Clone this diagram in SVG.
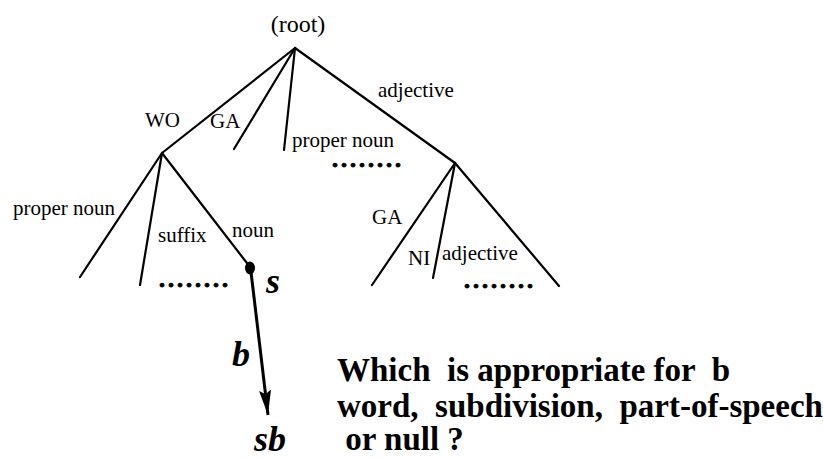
<svg xmlns="http://www.w3.org/2000/svg" width="823" height="459" viewBox="0 0 823 459">
<style>
text{font-family:"Liberation Serif","Times New Roman",serif;fill:#000}
.lbl{font-size:21px}
.root{font-size:24px}
.dots{font-size:24px;font-weight:bold;letter-spacing:3px;stroke:#000;stroke-width:1}
.var{font-size:36px;font-weight:bold;font-style:italic}
.q{font-size:33px;font-weight:bold;white-space:pre}
.edge{stroke:#000;stroke-width:2.2;fill:none;stroke-linecap:round}
.arrow{stroke:#000;stroke-width:3;fill:none}
</style>
<defs>
<marker id="ah" markerUnits="userSpaceOnUse" markerWidth="26" markerHeight="14" refX="25" refY="6" orient="auto">
<path d="M0,0 L25,6 L0,12 L4,6 z" fill="#000"/>
</marker>
</defs>
<g id="connectors">
<line class="edge" x1="295" y1="48" x2="162" y2="153"/>
<line class="edge" x1="295" y1="48" x2="234" y2="149"/>
<line class="edge" x1="295" y1="48" x2="284" y2="150"/>
<line class="edge" x1="295" y1="48" x2="455" y2="163"/>
<line class="edge" x1="162" y1="153" x2="80" y2="277"/>
<line class="edge" x1="162" y1="153" x2="140" y2="285"/>
<line class="edge" x1="162" y1="153" x2="250" y2="267"/>
<line class="edge" x1="455" y1="163" x2="372" y2="285"/>
<line class="edge" x1="455" y1="163" x2="433" y2="278"/>
<line class="edge" x1="455" y1="163" x2="559" y2="286"/>
<line class="arrow" x1="251" y1="272" x2="268" y2="415" marker-end="url(#ah)"/>
</g>
<g id="root-node"><text class="root" x="298" y="32" text-anchor="middle">(root)</text></g>
<g id="labels-root">
<text class="lbl" x="145" y="127">WO</text>
<text class="lbl" x="210" y="128">GA</text>
<text class="lbl" x="292" y="147">proper noun</text>
<text class="lbl" x="378" y="97">adjective</text>
<text class="dots" x="332" y="167">........</text>
</g>
<g id="wo-node">
<text class="lbl" x="13" y="215">proper noun</text>
<text class="lbl" x="158" y="242">suffix</text>
<text class="lbl" x="232" y="237">noun</text>
<text class="dots" x="159" y="287">........</text>
</g>
<g id="adj-node">
<text class="lbl" x="372" y="224">GA</text>
<text class="lbl" x="408" y="265">NI</text>
<text class="lbl" x="442" y="260">adjective</text>
<text class="dots" x="464" y="288">........</text>
</g>
<g id="s-node">
<ellipse cx="250" cy="268" rx="5" ry="6.5" fill="#000"/>
<text class="var" x="266" y="293">s</text>
</g>
<g id="b-label"><text class="var" x="232" y="366">b</text></g>
<g id="sb-node"><text class="var" x="254" y="451">sb</text></g>
<g id="question">
<text class="q" x="337" y="381">Which  is appropriate for  b</text>
<text class="q" x="337" y="417">word,  subdivision,  part-of-speech</text>
<text class="q" x="337" y="450"> or null ?</text>
</g>
</svg>
